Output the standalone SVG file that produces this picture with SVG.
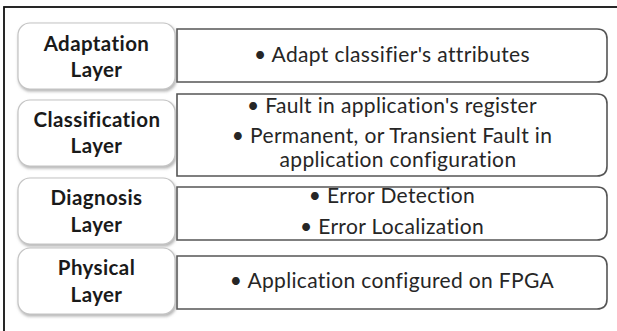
<svg xmlns="http://www.w3.org/2000/svg" width="617" height="331" viewBox="0 0 617 331">
  <style>
    .frame { fill: #ffffff; stroke: #111111; stroke-width: 1.8; }
    .lbl { fill: #ffffff; stroke: #c4c4c4; stroke-width: 1.2; filter: url(#sh); }
    .desc { fill: #ffffff; stroke: #555555; stroke-width: 1.6; }
    .lt { font-family: Lato, "Liberation Sans", sans-serif; font-weight: bold; font-size: 20.5px; letter-spacing: 0.4px; fill: #1a1a1a; text-anchor: middle; }
    .dt { font-family: Lato, "Liberation Sans", sans-serif; font-size: 21px; letter-spacing: 0.35px; fill: #262626; text-anchor: middle; }
  </style>
  <defs>
    <filter id="sh" x="-10%" y="-10%" width="125%" height="130%">
      <feDropShadow dx="1" dy="2" stdDeviation="1.5" flood-color="#808080" flood-opacity="0.6"/>
    </filter>
  </defs>
  <rect x="0" y="0" width="617" height="331" fill="#ffffff"/>
  <rect class="frame" x="4" y="7" width="630" height="340"/>

  <g id="connectors"></g>

  <g id="adaptation-desc">
    <path class="desc" d="M177 29 H597 Q607 29 607 39 V72 Q607 82 597 82 H177 Z"/>
    <text class="dt" x="392" y="62">• Adapt classifier's attributes</text>
  </g>
  <g id="adaptation-label">
    <rect class="lbl" x="18" y="23" width="157" height="66" rx="12"/>
    <text class="lt" x="96.5" y="51">Adaptation</text>
    <text class="lt" x="96.5" y="77">Layer</text>
  </g>

  <g id="classification-desc">
    <path class="desc" d="M177 94 H597 Q607 94 607 104 V166 Q607 176 597 176 H177 Z"/>
    <text class="dt" x="392" y="113">• Fault in application's register</text>
    <text class="dt" x="392" y="143">• Permanent, or Transient Fault in</text>
    <text class="dt" x="398" y="167">application configuration</text>
  </g>
  <g id="classification-label">
    <rect class="lbl" x="18" y="100" width="157" height="66" rx="12"/>
    <text class="lt" x="97" y="127">Classification</text>
    <text class="lt" x="96.5" y="153">Layer</text>
  </g>

  <g id="diagnosis-desc">
    <path class="desc" d="M177 187 H597 Q607 187 607 197 V230 Q607 240 597 240 H177 Z"/>
    <text class="dt" x="392" y="203">• Error Detection</text>
    <text class="dt" x="392" y="234">• Error Localization</text>
  </g>
  <g id="diagnosis-label">
    <rect class="lbl" x="18" y="178" width="157" height="66" rx="12"/>
    <text class="lt" x="96.5" y="205">Diagnosis</text>
    <text class="lt" x="96.5" y="232">Layer</text>
  </g>

  <g id="physical-desc">
    <path class="desc" d="M177 256 H597 Q607 256 607 266 V299 Q607 309 597 309 H177 Z"/>
    <text class="dt" x="392" y="288">• Application configured on FPGA</text>
  </g>
  <g id="physical-label">
    <rect class="lbl" x="18" y="248" width="157" height="66" rx="12"/>
    <text class="lt" x="96.5" y="275">Physical</text>
    <text class="lt" x="96.5" y="302">Layer</text>
  </g>
</svg>
